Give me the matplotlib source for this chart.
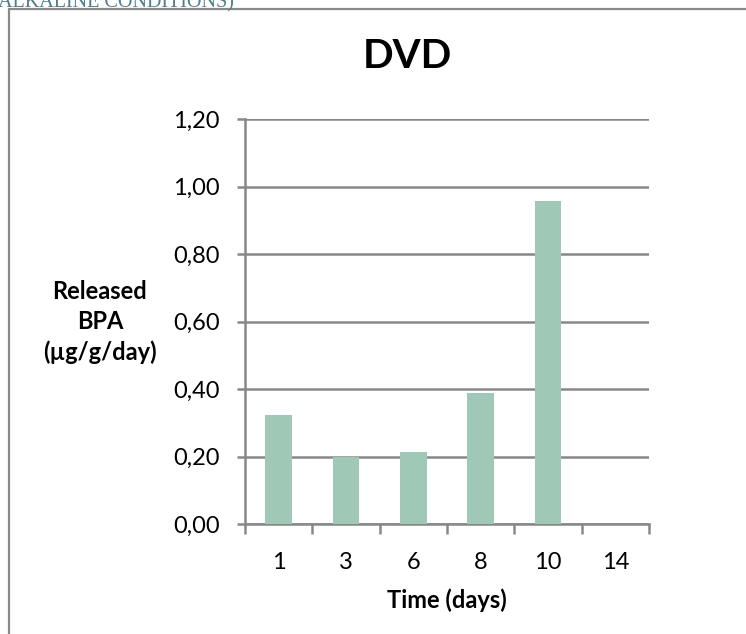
import matplotlib
matplotlib.use("Agg")
import matplotlib.pyplot as plt
from matplotlib.patches import Rectangle
from matplotlib.ticker import FixedLocator, FuncFormatter

plt.rcParams.update({"font.family": ["Lato", "DejaVu Sans"]})

# dane
days = ["1", "3", "6", "8", "10", "14"]
released_bpa = [0.323, 0.198, 0.213, 0.387, 0.957, 0.0]
y_ticks = [0.0, 0.2, 0.4, 0.6, 0.8, 1.0, 1.2]

BAR = "#9FC9B6"
GRID = "#888888"
FS = 17

W, H = 746, 634
fig = plt.figure(figsize=(W / 100, H / 100), dpi=100)

# ramka obszaru wykresu (przycieta z prawej i od dolu)
fig.patches.append(Rectangle((9 / W, -0.1), 1.2, (H - 9) / H + 0.1, transform=fig.transFigure,
                             fill=False, edgecolor="#8a8a8a", lw=1.6, zorder=0))
# resztka podpisu z dokumentu nad wykresem
fig.text(-2 / W, 1 - 7 / H, "ALKALINE CONDITIONS)", family="Liberation Serif", fontsize=14.5,
         color="#4f7d8c", ha="left", va="baseline")

ax = fig.add_axes([245 / W, 110 / H, 404 / W, 405 / H])
x = list(range(len(days)))
ax.bar(x, released_bpa, width=0.4, color=BAR, zorder=3)

ax.set_xlim(-0.5, len(days) - 0.5)
ax.set_ylim(0, 1.2)
ax.yaxis.set_major_locator(FixedLocator(y_ticks))
ax.yaxis.set_major_formatter(FuncFormatter(lambda v, p: f"{v:.2f}".replace(".", ",")))
ax.grid(axis="y", color=GRID, lw=1.8, zorder=1)
ax.set_xticks(x)
ax.set_xticklabels(days)
ax.xaxis.set_minor_locator(FixedLocator([i - 0.5 for i in range(len(days) + 1)]))
ax.tick_params(axis="x", which="major", length=0, pad=20, labelsize=FS)
ax.tick_params(axis="x", which="minor", length=7, width=1.8, color=GRID, direction="out")
ax.tick_params(axis="y", length=6, width=1.8, color=GRID, pad=12, labelsize=FS)

for s in ("top", "right"):
    ax.spines[s].set_visible(False)
for s in ("left", "bottom"):
    ax.spines[s].set_color(GRID)
    ax.spines[s].set_linewidth(1.8)

ax.set_xlabel("Time (days)", fontsize=FS, fontweight="bold", labelpad=11)
fig.text(100 / W, 1 - 322 / H, "Released\nBPA\n(µg/g/day)", ha="center", va="center",
         fontsize=FS, fontweight="bold", linespacing=1.38)
fig.text(407 / W, 1 - 57 / H, "DVD", ha="center", va="center", fontsize=29, fontweight="bold")

fig.savefig("out.png", dpi=100)
